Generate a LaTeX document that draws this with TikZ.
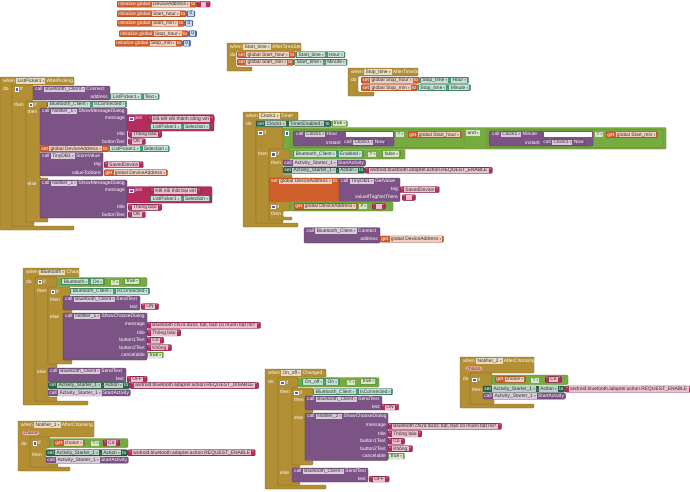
\documentclass[tikz,border=0pt]{standalone}
\usepackage{fontspec}
\setmainfont{Liberation Sans}
\newfontfamily\symfont{DejaVu Sans}
\usetikzlibrary{positioning}
\definecolor{CtrlGold}{RGB}{178,143,52}
\definecolor{ProcPurple}{RGB}{124,83,133}
\definecolor{SetGreen}{RGB}{39,102,68}
\definecolor{GetGreen}{RGB}{67,153,112}
\definecolor{VarOrange}{RGB}{208,95,45}
\definecolor{TextPink}{RGB}{179,45,94}
\definecolor{LogicGreen}{RGB}{119,171,65}
\definecolor{MathBlue}{RGB}{63,113,181}
\definecolor{MutBlue}{RGB}{78,92,210}
\newcommand\blkfont{\fontsize{4.9}{5.5}\selectfont}
\newcommand\fstrut{\rule[-0.9pt]{0pt}{4.1pt}}
\def\fdc{ProcPurple}
% dropdown field and text field
\newcommand\fd[1]{{\setlength{\fboxsep}{0.45pt}\colorbox{\fdc!30!white}{\hspace{0.9pt}\fstrut\textcolor{black!80}{#1}\hspace{1.2pt}\textcolor{black!60}{\symfont\fontsize{3.3}{3.5}\selectfont ▾}\hspace{0.6pt}}}}
\newcommand\fe[1]{{\setlength{\fboxsep}{0.45pt}\colorbox{\fdc!30!white}{\hspace{0.9pt}\fstrut\textcolor{black!80}{#1}\hspace{0.9pt}}}}
\tikzset{
  blk/.style={fill=#1,draw=#1!70!black,line width=.3pt,rounded corners=1pt,
    inner xsep=1.3pt,inner ysep=.35pt,anchor=north west,text=white,font=\blkfont,
    execute at begin node={\def\fdc{#1}}},
  box/.style={fill=#1,draw=#1!70!black,line width=.3pt,rounded corners=1pt},
  ctrl/.style={fill=CtrlGold,draw=CtrlGold!70!black,line width=.3pt,rounded corners=.8pt},
  lab/.style={text=white,font=\blkfont,inner sep=0pt,anchor=west},
  arg/.style={lab,anchor=east},
  op/.style={lab,execute at begin node={\def\fdc{#1}}},
  glab/.style={op=CtrlGold},
  mut/.style={fill=MutBlue,draw=white,line width=.25pt,minimum size=3.6pt,inner sep=0pt},
  param/.style={fill=VarOrange!40!white,draw=VarOrange,line width=.3pt,rounded corners=2pt,
    inner xsep=1.5pt,inner ysep=.5pt,anchor=north west,text=black!80,font=\blkfont},
  hole/.style={fill=white,draw=none}
}

\begin{document}
\begin{tikzpicture}[x=1pt,y=-1pt]
  \useasboundingbox[fill=white] (0,0) rectangle (690,491);

  % global variables
  \node[blk=VarOrange] (gDev) at (117,1) {initialize global \fd{DeviceAddress} to};
  \node[blk=TextPink,right=0pt of gDev] (gDevVal) {“\,\fe{\hspace{3pt}}\,”};
  \node[blk=VarOrange] (gSh) at (117,10.5) {initialize global \fd{Start\_hour} to};
  \node[blk=MathBlue,right=0pt of gSh] (gShVal) {\fe{0}};
  \node[blk=VarOrange] (gSm) at (117,20) {initialize global \fd{Start\_min} to};
  \node[blk=MathBlue,right=0pt of gSm] (gSmVal) {\fe{0}};
  \node[blk=VarOrange] (gTh) at (119,30.5) {initialize global \fd{Stop\_hour} to};
  \node[blk=MathBlue,right=0pt of gTh] (gThVal) {\fe{0}};
  \node[blk=VarOrange] (gTm) at (115,40) {initialize global \fd{Stop\_min} to};
  \node[blk=MathBlue,right=0pt of gTm] (gTmVal) {\fe{0}};

  % Start_time.AfterTimeSet
  \draw[ctrl] (227,43) -| (301,51) -| (236,67) -| (252,71) -- (227,71) -- cycle;
  \node[glab] (stWhen) at (230,47) {when \fd{Start\_time} AfterTimeSet};
  \node[glab] (stDo) at (230,55) {do};
  \node[blk=VarOrange] (stSet1) at (237,51.5) {set \fd{global Start\_hour} to};
  \node[blk=GetGreen,right=0pt of stSet1] (stGet1) {\fd{Start\_time}\,.\,\fd{Hour}};
  \node[blk=VarOrange] (stSet2) at (237,59) {set \fd{global Start\_min} to};
  \node[blk=GetGreen,right=0pt of stSet2] (stGet2) {\fd{Start\_time}\,.\,\fd{Minute}};

  % Stop_time.AfterTimeSet
  \draw[ctrl] (348,68) -| (418,76) -| (358,92) -| (374,96) -- (348,96) -- cycle;
  \node[glab] (spWhen) at (351,72) {when \fd{Stop\_time} AfterTimeSet};
  \node[glab] (spDo) at (351,80) {do};
  \node[blk=VarOrange] (spSet1) at (361,77) {set \fd{global Stop\_hour} to};
  \node[blk=GetGreen,right=0pt of spSet1] (spGet1) {\fd{Stop\_time}\,.\,\fd{Hour}};
  \node[blk=VarOrange] (spSet2) at (361,84.5) {set \fd{global Stop\_min} to};
  \node[blk=GetGreen,right=0pt of spSet2] (spGet2) {\fd{Stop\_time}\,.\,\fd{Minute}};

  % ListPicker1.AfterPicking
  \draw[ctrl] (0,77) -| (74,85) -| (12,226) -| (74,230) -- (0,230) -- cycle;
  \draw[ctrl] (12,85) -| (33,101) -| (26,222) -| (34,226) -- (12,226) -- cycle;
  \draw[ctrl] (26,101) -| (47,108) -| (40,178) -| (48,181) -| (40,218) -| (48,222) -- (26,222) -- cycle;
  \node[glab] (lpWhen) at (3,81) {when \fd{ListPicker1} AfterPicking};
  \node[glab] (lpDo) at (3,89) {do};
  \node[mut] (lpM1) at (16.5,89) {};
  \node[glab] (lpIf1) at (20,89) {if};
  \node[glab] (lpThen1) at (14,104.5) {then};
  \node[mut] (lpM2) at (30.5,104.5) {};
  \node[glab] (lpIf2) at (34,104.5) {if};
  \node[glab] (lpThen2) at (27.5,112) {then};
  \node[glab] (lpElse2) at (27.5,184) {else};
  \draw[box=ProcPurple] (33,86) rectangle (110,100);
  \node[op=ProcPurple] (lpCon) at (35,89.5) {call \fd{Bluetooth\_Client} Connect};
  \node[arg] (lpAddr) at (108,96.5) {address};
  \node[blk=GetGreen] (lpTxt) at (110,93.5) {\fd{ListPicker1}\,.\,\fd{Text}};
  \node[blk=GetGreen] (lpIsC) at (47,101) {\fd{Bluetooth\_Client}\,.\,\fd{IsConnected}};
  \draw[box=ProcPurple] (40,108) rectangle (127,145.5);
  \node[op=ProcPurple] (lpDlg1) at (42,111.5) {call \fd{Notifier\_1} ShowMessageDialog};
  \node[arg] (lpMsg1) at (125,118.5) {message};
  \node[arg] (lpTit1) at (125,134) {title};
  \node[arg] (lpBtn1) at (125,141.5) {buttonText};
  \draw[box=TextPink] (127,114.5) rectangle (214,131);
  \node[mut] (lpM3) at (131,118.5) {};
  \node[lab] (lpJoin1) at (134.5,118.5) {join};
  \node[blk=TextPink] (lpOkTxt) at (148,115.5) {“\,\fe{Đã kết nối thành công với}\,”};
  \node[blk=GetGreen] (lpSel1) at (150,123.5) {\fd{ListPicker1}\,.\,\fd{Selection}};
  \node[blk=TextPink] (lpTb1) at (128,131) {“\,\fe{Thông báo}\,”};
  \node[blk=TextPink] (lpBtnTxt1) at (128,138.5) {“\,\fe{OK}\,”};
  \node[blk=VarOrange] (lpSetDev) at (40,145.5) {set \fd{global DeviceAddress} to};
  \node[blk=GetGreen,right=0pt of lpSetDev] (lpSel2) {\fd{ListPicker1}\,.\,\fd{Selection}};
  \draw[box=ProcPurple] (40,152.5) rectangle (103,176);
  \node[op=ProcPurple] (lpStore) at (42,156) {call \fd{TinyDB1} StoreValue};
  \node[arg] (lpTag) at (101,164.5) {tag};
  \node[arg] (lpVal) at (101,172.5) {valueToStore};
  \node[blk=TextPink] (lpSaved) at (104,161.5) {“\,\fe{SavedDevice}\,”};
  \node[blk=VarOrange] (lpGetDev) at (104,169.5) {get \fd{global DeviceAddress}};
  \draw[box=ProcPurple] (40,180) rectangle (127,218);
  \node[op=ProcPurple] (lpDlg2) at (42,183.5) {call \fd{Notifier\_1} ShowMessageDialog};
  \node[arg] (lpMsg2) at (125,191) {message};
  \node[arg] (lpTit2) at (125,207) {title};
  \node[arg] (lpBtn2) at (125,214.5) {buttonText};
  \draw[box=TextPink] (127,186.5) rectangle (212,203);
  \node[mut] (lpM4) at (131,190.5) {};
  \node[lab] (lpJoin2) at (134.5,190.5) {join};
  \node[blk=TextPink] (lpFail) at (150,187.5) {“\,\fe{Kết nối thất bại với}\,”};
  \node[blk=GetGreen] (lpSel3) at (150,195.5) {\fd{ListPicker1}\,.\,\fd{Selection}};
  \node[blk=TextPink] (lpTb2) at (128,204) {“\,\fe{Thông báo}\,”};
  \node[blk=TextPink] (lpBtnTxt2) at (128,211.5) {“\,\fe{OK}\,”};

  % Clock1.Timer
  \draw[ctrl] (243,112) -| (298,120) -| (256,223) -| (298,227) -- (243,227) -- cycle;
  \draw[ctrl] (256,127) -| (283,149) -| (269,220) -| (283,223) -- (256,223) -- cycle;
  \draw[ctrl] (269,149) -| (290,159.5) -| (283,174.5) -| (292,178) -- (269,178) -- cycle;
  \draw[ctrl] (269,201.5) -| (290,211) -| (283,217) -| (292,220) -- (269,220) -- cycle;
  \node[glab] (ckWhen) at (246,116) {when \fd{Clock1} Timer};
  \node[glab] (ckDo) at (246,124) {do};
  \node[blk=SetGreen] (ckSet) at (256,120.5) {set \fd{Clock1}\,.\,\fd{TimerEnabled} to};
  \node[blk=LogicGreen,right=0pt of ckSet] (ckTrue) {\fd{true}};
  \node[mut] (ckM1) at (260,132.5) {};
  \node[glab] (ckIf1) at (263.5,132.5) {if};
  \node[glab] (ckThen1) at (258,153.5) {then};
  \draw[box=LogicGreen] (283,127.5) rectangle (666,149);
  \node[mut] (ckM2) at (286.5,133) {};
  \draw[box=LogicGreen] (290,129.5) rectangle (464,147.5);
  \draw[box=ProcPurple] (293,131) rectangle (394,146);
  \fill[hole] (346,131.8) rectangle (392.5,137.2);
  \node[op=ProcPurple] (ckHr) at (296,134.5) {call \fd{Clock1} Hour};
  \node[arg] (ckInst1) at (341,142.5) {instant};
  \node[blk=ProcPurple] (ckNow1) at (343,139.3) {call \fd{Clock1} Now};
  \node[op=LogicGreen] (ckEq1) at (396,134.5) {\fd{=}};
  \node[blk=VarOrange] (ckGetSh) at (408,131.5) {get \fd{global Start\_hour}};
  \node[op=LogicGreen] (ckAnd) at (466,133) {\fd{and}};
  \draw[box=LogicGreen] (487,129.5) rectangle (663,147.5);
  \draw[box=ProcPurple] (489,131) rectangle (593,146);
  \fill[hole] (544,131.8) rectangle (591.5,137.2);
  \node[op=ProcPurple] (ckMin) at (492,134.5) {call \fd{Clock1} Minute};
  \node[arg] (ckInst2) at (540,142.5) {instant};
  \node[blk=ProcPurple] (ckNow2) at (542,139.3) {call \fd{Clock1} Now};
  \node[op=LogicGreen] (ckEq2) at (595,134.5) {\fd{=}};
  \node[blk=VarOrange] (ckGetSm) at (606,131.5) {get \fd{global Start\_min}};
  \node[mut] (ckM3) at (273,154) {};
  \node[glab] (ckIf2) at (276.5,154) {if};
  \node[glab] (ckThen2) at (271,162.5) {then};
  \draw[box=LogicGreen] (290,149.5) rectangle (405,159);
  \node[blk=GetGreen] (ckEn) at (293,150.8) {\fd{Bluetooth\_Client}\,.\,\fd{Enabled}};
  \node[op=LogicGreen] (ckEq3) at (368,154.5) {\fd{=}};
  \node[blk=LogicGreen] (ckFalse) at (382,150.8) {\fd{false}};
  \node[blk=ProcPurple] (ckStart) at (283,159.8) {call \fd{Activity\_Starter\_1} StartActivity};
  \node[blk=SetGreen] (ckAct) at (283,167) {set \fd{Activity\_Starter\_1}\,.\,\fd{Action} to};
  \node[blk=TextPink,right=0pt of ckAct] (ckEnable) {“\,\fe{android.bluetooth.adapter.action.REQUEST\_ENABLE}\,”};
  \draw[box=VarOrange] (269,178) rectangle (340,201.5);
  \node[op=VarOrange] (ckSetDev) at (271,181.5) {set \fd{global DeviceAddress} to};
  \draw[box=ProcPurple] (339,178) rectangle (400,201.5);
  \node[op=ProcPurple] (ckGetVal) at (341,181.5) {call \fd{TinyDB1} GetValue};
  \node[arg] (ckTag) at (398,189.5) {tag};
  \node[arg] (ckNot) at (398,197.5) {valueIfTagNotThere};
  \node[blk=TextPink] (ckSaved) at (400,186.5) {“\,\fe{SavedDevice}\,”};
  \node[blk=TextPink] (ckEmpty) at (402,194.5) {“\,\fe{\hspace{3pt}}\,”};
  \node[mut] (ckM4) at (273,206.5) {};
  \node[glab] (ckIf3) at (276.5,206.5) {if};
  \node[glab] (ckThen3) at (271,214) {then};
  \draw[box=LogicGreen] (290,202) rectangle (393,211);
  \node[blk=VarOrange] (ckGetDev) at (294,203.3) {get \fd{global DeviceAddress}};
  \node[op=LogicGreen] (ckNeq) at (359,206.5) {\fd{≠}};
  \node[blk=TextPink] (ckEmpty2) at (372,203.3) {“\,\fe{\hspace{3pt}}\,”};

  % loose Connect block
  \draw[box=ProcPurple] (304,227.5) rectangle (380,243);
  \node[op=ProcPurple] (bcCon) at (306.5,231) {call \fd{Bluetooth\_Client} Connect};
  \node[arg] (bcAddr) at (378,239) {address};
  \node[blk=VarOrange] (bcGet) at (380,235.8) {get \fd{global DeviceAddress}};

  % Bluetooth.Changed
  \draw[ctrl] (23,268) -| (79,277) -| (35,401) -| (88,405) -- (23,405) -- cycle;
  \draw[ctrl] (35,277) -| (57,287) -| (48,364) -| (57,368) -| (48,397) -| (57,401) -- (35,401) -- cycle;
  \draw[ctrl] (48,287) -| (70,296) -| (63,310) -| (72,313) -| (63,360) -| (72,364) -- (48,364) -- cycle;
  \node[glab] (btWhen) at (26,272.5) {when \fd{Bluetooth} Changed};
  \node[glab] (btDo) at (26,281.5) {do};
  \node[mut] (btM1) at (39.5,281.5) {};
  \node[glab] (btIf1) at (43,281.5) {if};
  \node[glab] (btThen1) at (37,291) {then};
  \node[glab] (btElse1) at (37,371.5) {else};
  \node[mut] (btM2) at (52.5,291.5) {};
  \node[glab] (btIf2) at (56,291.5) {if};
  \node[glab] (btThen2) at (50,299.5) {then};
  \node[glab] (btElse2) at (50,317) {else};
  \draw[box=LogicGreen] (57,277.5) rectangle (147,286.5);
  \node[blk=GetGreen] (btOn) at (61,278.5) {\fd{Bluetooth}\,.\,\fd{On}};
  \node[op=LogicGreen] (btEq) at (111,282) {\fd{=}};
  \node[blk=LogicGreen] (btTrue) at (124,278.5) {\fd{true}};
  \node[blk=GetGreen] (btIsC) at (70,288) {\fd{Bluetooth\_Client}\,.\,\fd{IsConnected}};
  \draw[box=ProcPurple] (63,296) rectangle (140,310);
  \node[op=ProcPurple] (btSend1) at (65,299.5) {call \fd{Bluetooth\_Client} SendText};
  \node[arg] (btTxt1) at (138,306.5) {text};
  \node[blk=TextPink] (btOnTxt) at (141,303.5) {“\,\fe{ON}\,”};
  \draw[box=ProcPurple] (63,313) rectangle (147,360);
  \node[op=ProcPurple] (btDlg) at (65,316.5) {call \fd{Notifier\_1} ShowChooseDialog};
  \node[arg] (btMsg) at (145,325) {message};
  \node[arg] (btTit) at (145,332.5) {title};
  \node[arg] (btB1) at (145,340) {button1Text};
  \node[arg] (btB2) at (145,347.5) {button2Text};
  \node[arg] (btCan) at (145,355) {cancelable};
  \node[blk=TextPink] (btMsgTxt) at (147,322) {“\,\fe{Bluetooth chưa được bật, bạn có muốn bật nó?}\,”};
  \node[blk=TextPink] (btTitTxt) at (147,329.5) {“\,\fe{Thông báo}\,”};
  \node[blk=TextPink] (btB1Txt) at (147,337) {“\,\fe{Có}\,”};
  \node[blk=TextPink] (btB2Txt) at (147,344.5) {“\,\fe{Không}\,”};
  \node[blk=LogicGreen] (btCanVal) at (147,352) {\fd{true}};
  \draw[box=ProcPurple] (48,368) rectangle (126,382);
  \node[op=ProcPurple] (btSend2) at (50,371.5) {call \fd{Bluetooth\_Client} SendText};
  \node[arg] (btTxt2) at (124,379) {text};
  \node[blk=TextPink] (btOffTxt) at (127,376) {“\,\fe{OFF}\,”};
  \node[blk=SetGreen] (btAct) at (48,382.3) {set \fd{Activity\_Starter\_1}\,.\,\fd{Action} to};
  \node[blk=TextPink,right=0pt of btAct] (btDisable) {“\,\fe{android.bluetooth.adapter.action.REQUEST\_DISABLE}\,”};
  \node[blk=ProcPurple] (btStart) at (48,389.6) {call \fd{Activity\_Starter\_1} StartActivity};

  % Notifier_1.AfterChoosing
  \draw[ctrl] (18,421) -| (94,437) -| (30,467) -| (70,471) -- (18,471) -- cycle;
  \draw[ctrl] (30,437) -| (50,448) -| (46,464) -| (58,467) -- (30,467) -- cycle;
  \node[glab] (n1When) at (21,425) {when \fd{Notifier\_1} AfterChoosing};
  \node[param] (n1Choice) at (22,430.5) {choice};
  \node[glab] (n1Do) at (21,443.5) {do};
  \node[mut] (n1M) at (34.5,443) {};
  \node[glab] (n1If) at (38,443) {if};
  \node[glab] (n1Then) at (32,455) {then};
  \draw[box=LogicGreen] (50,438.5) rectangle (128,447.5);
  \node[blk=VarOrange] (n1Get) at (54,439.8) {get \fd{choice}};
  \node[op=LogicGreen] (n1Eq) at (91,443.5) {\fd{=}};
  \node[blk=TextPink] (n1Co) at (103,439.8) {“\,\fe{Có}\,”};
  \node[blk=SetGreen] (n1Act) at (46,449.5) {set \fd{Activity\_Starter\_1}\,.\,\fd{Action} to};
  \node[blk=TextPink,right=0pt of n1Act] (n1Enable) {“\,\fe{android.bluetooth.adapter.action.REQUEST\_ENABLE}\,”};
  \node[blk=ProcPurple] (n1Start) at (46,456.8) {call \fd{Activity\_Starter\_1} StartActivity};

  % On_off.Changed
  \draw[ctrl] (265,369) -| (326,377) -| (278,485) -| (326,489) -- (265,489) -- cycle;
  \draw[ctrl] (278,377) -| (298,388) -| (292,465) -| (300,468) -| (292,482) -| (300,485) -- (278,485) -- cycle;
  \draw[ctrl] (292,388) -| (313,396) -| (305,410) -| (313,413) -| (305,461) -| (313,465) -- (292,465) -- cycle;
  \node[glab] (ooWhen) at (268,373) {when \fd{On\_off} Changed};
  \node[glab] (ooDo) at (268,382) {do};
  \node[mut] (ooM1) at (282,382.5) {};
  \node[glab] (ooIf1) at (285.5,382.5) {if};
  \node[glab] (ooThen1) at (280,392) {then};
  \node[glab] (ooElse1) at (280,472.5) {else};
  \node[mut] (ooM2) at (296,392.5) {};
  \node[glab] (ooIf2) at (299.5,392.5) {if};
  \node[glab] (ooThen2) at (294,400) {then};
  \node[glab] (ooElse2) at (294,418) {else};
  \draw[box=LogicGreen] (298,377.5) rectangle (379,387);
  \node[blk=GetGreen] (ooOn) at (302,378.7) {\fd{On\_off}\,.\,\fd{On}};
  \node[op=LogicGreen] (ooEq) at (347,382.5) {\fd{=}};
  \node[blk=LogicGreen] (ooTrue) at (360,378.7) {\fd{true}};
  \node[blk=GetGreen] (ooIsC) at (313,388.5) {\fd{Bluetooth\_Client}\,.\,\fd{IsConnected}};
  \draw[box=ProcPurple] (305,396) rectangle (382,410);
  \node[op=ProcPurple] (ooSend1) at (307,399.5) {call \fd{Bluetooth\_Client} SendText};
  \node[arg] (ooTxt1) at (380,407) {text};
  \node[blk=TextPink] (ooOnTxt) at (381,404) {“\,\fe{ON}\,”};
  \draw[box=ProcPurple] (305,413) rectangle (388,460.5);
  \node[op=ProcPurple] (ooDlg) at (307,416.5) {call \fd{Notifier\_2} ShowChooseDialog};
  \node[arg] (ooMsg) at (386,426) {message};
  \node[arg] (ooTit) at (386,433.5) {title};
  \node[arg] (ooB1) at (386,441) {button1Text};
  \node[arg] (ooB2) at (386,448.5) {button2Text};
  \node[arg] (ooCan) at (386,456) {cancelable};
  \node[blk=TextPink] (ooMsgTxt) at (388,423) {“\,\fe{Bluetooth chưa được bật, bạn có muốn bật nó?}\,”};
  \node[blk=TextPink] (ooTitTxt) at (388,430.5) {“\,\fe{Thông báo}\,”};
  \node[blk=TextPink] (ooB1Txt) at (388,438) {“\,\fe{Có}\,”};
  \node[blk=TextPink] (ooB2Txt) at (388,445.5) {“\,\fe{Không}\,”};
  \node[blk=LogicGreen] (ooCanVal) at (388,453) {\fd{true}};
  \draw[box=ProcPurple] (292,468) rectangle (368,482);
  \node[op=ProcPurple] (ooSend2) at (294,471.5) {call \fd{Bluetooth\_Client} SendText};
  \node[arg] (ooTxt2) at (366,479) {text};
  \node[blk=TextPink] (ooOffTxt) at (369,476) {“\,\fe{OFF}\,”};

  % Notifier_2.AfterChoosing
  \draw[ctrl] (460,357) -| (534,373) -| (470,404) -| (534,408) -- (460,408) -- cycle;
  \draw[ctrl] (470,373) -| (492,385.5) -| (483,399.5) -| (494,404) -- (470,404) -- cycle;
  \node[glab] (n2When) at (463,361) {when \fd{Notifier\_2} AfterChoosing};
  \node[param] (n2Choice) at (465,366) {choice};
  \node[glab] (n2Do) at (463,379) {do};
  \node[mut] (n2M) at (474,379.5) {};
  \node[glab] (n2If) at (477.5,379.5) {if};
  \node[glab] (n2Then) at (472,389.5) {then};
  \draw[box=LogicGreen] (492,375) rectangle (568,384.5);
  \node[blk=VarOrange] (n2Get) at (495,376.3) {get \fd{choice}};
  \node[op=LogicGreen] (n2Eq) at (531,380) {\fd{=}};
  \node[blk=TextPink] (n2Co) at (545,376.3) {“\,\fe{Có}\,”};
  \node[blk=SetGreen] (n2Act) at (483,385.8) {set \fd{Activity\_Starter\_1}\,.\,\fd{Action} to};
  \node[blk=TextPink,right=0pt of n2Act] (n2Enable) {“\,\fe{android.bluetooth.adapter.action.REQUEST\_ENABLE}\,”};
  \node[blk=ProcPurple] (n2Start) at (483,392.8) {call \fd{Activity\_Starter\_1} StartActivity};
\end{tikzpicture}
\end{document}
